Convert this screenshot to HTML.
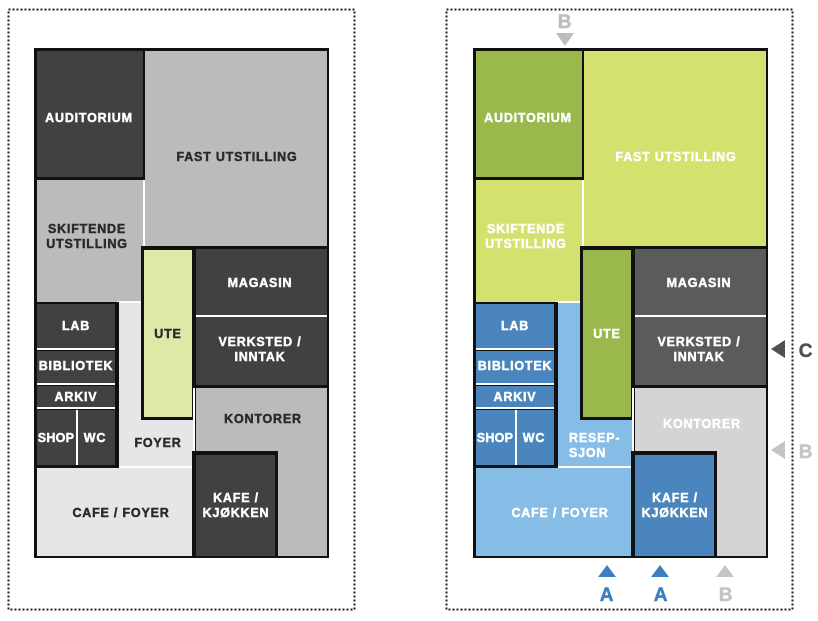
<!DOCTYPE html>
<html><head><meta charset="utf-8"><style>
html,body{margin:0;padding:0;background:#fff;width:818px;height:621px;overflow:hidden}
svg{display:block}
text{font-family:"Liberation Sans",sans-serif;font-weight:bold;font-size:12.5px;letter-spacing:0.8px;text-anchor:middle;stroke-width:0.45px}
.w{fill:#fff;stroke:#fff}.d{fill:#2a2a2a;stroke:#2a2a2a}
</style></head><body>
<svg width="818" height="621" viewBox="0 0 818 621">
<rect x="8.5" y="9.5" width="346" height="600" fill="none" stroke="#222" stroke-width="2" stroke-dasharray="2,2"/>
<rect x="446.5" y="9.5" width="346" height="600" fill="none" stroke="#222" stroke-width="2" stroke-dasharray="2,2"/>

<!-- LEFT PLAN -->
<g>
<rect x="34" y="48" width="295" height="510" fill="#111"/>
<rect x="145" y="51" width="182" height="195" fill="#bbbbbd"/>
<rect x="37" y="180" width="106" height="122" fill="#bbbbbd"/>
<rect x="143" y="180" width="2" height="66" fill="#fff"/>
<rect x="37" y="51" width="106" height="126" fill="#414142"/>
<rect x="118" y="303" width="75" height="163" fill="#e6e6e8"/>
<rect x="117" y="301" width="26" height="2" fill="#fff"/>
<rect x="37" y="466" width="156" height="2" fill="#fff"/>
<rect x="37" y="468" width="156" height="88" fill="#e6e6e8"/>
<rect x="35" y="302" width="84" height="166" fill="#111"/>
<rect x="37" y="304" width="78" height="44" fill="#414142"/>
<rect x="37" y="348" width="78" height="2" fill="#fff"/>
<rect x="37" y="351" width="78" height="32" fill="#414142"/>
<rect x="37" y="383" width="78" height="2" fill="#fff"/>
<rect x="37" y="386" width="78" height="21" fill="#414142"/>
<rect x="37" y="407" width="78" height="2" fill="#fff"/>
<rect x="37" y="410" width="39" height="55" fill="#414142"/>
<rect x="76" y="410" width="2" height="55" fill="#fff"/>
<rect x="78" y="410" width="37" height="55" fill="#414142"/>
<rect x="141" y="246" width="54" height="174" fill="#111"/>
<rect x="144" y="250" width="48" height="167" fill="#dfe8a7"/>
<rect x="193" y="246" width="136" height="142" fill="#111"/>
<rect x="196" y="249" width="131" height="66" fill="#414142"/>
<rect x="196" y="315" width="131" height="2" fill="#fff"/>
<rect x="196" y="317" width="131" height="68" fill="#414142"/>
<rect x="196" y="388" width="131" height="168" fill="#bbbbbd"/>
<rect x="193" y="388" width="2" height="64" fill="#fff"/>
<rect x="192" y="451" width="86" height="106" fill="#111"/>
<rect x="196" y="455" width="79" height="101" fill="#414142"/>
<text class="w" x="89" y="122">AUDITORIUM</text>
<text class="d" x="237" y="161">FAST UTSTILLING</text>
<text class="d" x="87" y="233">SKIFTENDE</text>
<text class="d" x="87" y="248">UTSTILLING</text>
<text class="w" x="260" y="287">MAGASIN</text>
<text class="w" x="260" y="346">VERKSTED /</text>
<text class="w" x="260" y="361">INNTAK</text>
<text class="d" x="168" y="338">UTE</text>
<text class="w" x="76" y="330">LAB</text>
<text class="w" x="76" y="370">BIBLIOTEK</text>
<text class="w" x="76" y="401">ARKIV</text>
<text class="w" x="56" y="442" style="letter-spacing:0.3px">SHOP</text>
<text class="w" x="95" y="442">WC</text>
<text class="d" x="158" y="447">FOYER</text>
<text class="d" x="263" y="423">KONTORER</text>
<text class="w" x="236" y="502">KAFE /</text>
<text class="w" x="236" y="517">KJØKKEN</text>
<text class="d" x="121" y="517">CAFE / FOYER</text>
</g>

<!-- RIGHT PLAN -->
<g transform="translate(439,0)">
<rect x="34" y="48" width="295" height="510" fill="#111"/>
<rect x="145" y="51" width="182" height="195" fill="#d5e16f"/>
<rect x="37" y="180" width="106" height="122" fill="#d5e16f"/>
<rect x="143" y="180" width="2" height="66" fill="#fff"/>
<rect x="37" y="51" width="106" height="126" fill="#9ab84c"/>
<rect x="118" y="303" width="75" height="163" fill="#86bde6"/>
<rect x="117" y="301" width="26" height="2" fill="#fff"/>
<rect x="37" y="466" width="156" height="2" fill="#fff"/>
<rect x="37" y="468" width="156" height="88" fill="#86bde6"/>
<rect x="35" y="302" width="84" height="166" fill="#111"/>
<rect x="37" y="304" width="78" height="44" fill="#4a86bd"/>
<rect x="37" y="348" width="78" height="2" fill="#fff"/>
<rect x="37" y="351" width="78" height="32" fill="#4a86bd"/>
<rect x="37" y="383" width="78" height="2" fill="#fff"/>
<rect x="37" y="386" width="78" height="21" fill="#4a86bd"/>
<rect x="37" y="407" width="78" height="2" fill="#fff"/>
<rect x="37" y="410" width="39" height="55" fill="#4a86bd"/>
<rect x="76" y="410" width="2" height="55" fill="#fff"/>
<rect x="78" y="410" width="37" height="55" fill="#4a86bd"/>
<rect x="141" y="246" width="54" height="174" fill="#111"/>
<rect x="144" y="250" width="48" height="167" fill="#9ab84c"/>
<rect x="193" y="246" width="136" height="142" fill="#111"/>
<rect x="196" y="249" width="131" height="66" fill="#5b5b5c"/>
<rect x="196" y="315" width="131" height="2" fill="#fff"/>
<rect x="196" y="317" width="131" height="68" fill="#5b5b5c"/>
<rect x="196" y="388" width="131" height="168" fill="#d4d4d6"/>
<rect x="193" y="388" width="2" height="64" fill="#fff"/>
<rect x="192" y="451" width="86" height="106" fill="#111"/>
<rect x="196" y="455" width="79" height="101" fill="#4a86bd"/>
<text class="w" x="89" y="122">AUDITORIUM</text>
<text class="w" x="237" y="161">FAST UTSTILLING</text>
<text class="w" x="87" y="233">SKIFTENDE</text>
<text class="w" x="87" y="248">UTSTILLING</text>
<text class="w" x="260" y="287">MAGASIN</text>
<text class="w" x="260" y="346">VERKSTED /</text>
<text class="w" x="260" y="361">INNTAK</text>
<text class="w" x="168" y="338">UTE</text>
<text class="w" x="76" y="330">LAB</text>
<text class="w" x="76" y="370">BIBLIOTEK</text>
<text class="w" x="76" y="401">ARKIV</text>
<text class="w" x="56" y="442" style="letter-spacing:0.3px">SHOP</text>
<text class="w" x="95" y="442">WC</text>
<text class="w" x="130" y="442" style="text-anchor:start">RESEP-</text>
<text class="w" x="130" y="457" style="text-anchor:start">SJON</text>
<text class="w" x="263" y="428">KONTORER</text>
<text class="w" x="236" y="502">KAFE /</text>
<text class="w" x="236" y="517">KJØKKEN</text>
<text class="w" x="121" y="517">CAFE / FOYER</text>
</g>

<!-- arrows -->
<g style="font-size:19px">
<text x="565" y="28" fill="#bdbdbd" stroke="#bdbdbd" style="font-size:19px">B</text>
<polygon points="556,33 574,33 565,46" fill="#bdbdbd"/>
<polygon points="771,349 785,340 785,358" fill="#505050"/>
<text x="806" y="357" fill="#505050" stroke="#505050" style="font-size:19px">C</text>
<polygon points="771,450 785,441 785,459" fill="#c4c4c4"/>
<text x="806" y="458" fill="#c4c4c4" stroke="#c4c4c4" style="font-size:19px">B</text>
<polygon points="598,577 616,577 607,565" fill="#3a7fc0"/>
<text x="607" y="601" fill="#3a7fc0" stroke="#3a7fc0" style="font-size:19px">A</text>
<polygon points="651,577 669,577 660,565" fill="#3a7fc0"/>
<text x="661" y="601" fill="#3a7fc0" stroke="#3a7fc0" style="font-size:19px">A</text>
<polygon points="716,577 734,577 725,565" fill="#c4c4c4"/>
<text x="726" y="601" fill="#c4c4c4" stroke="#c4c4c4" style="font-size:19px">B</text>
</g>
</svg>
</body></html>
